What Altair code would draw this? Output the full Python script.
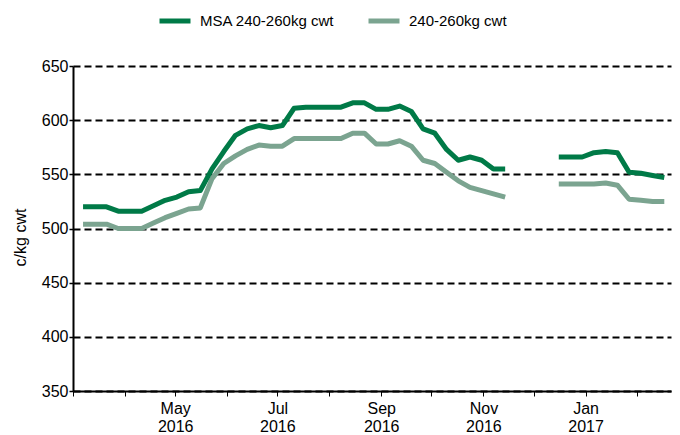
import altair as alt
import pandas as pd

series_names = ["MSA 240-260kg cwt", "240-260kg cwt"]
series_colors = ["#007A47", "#7BA490"]

# weekly dates, first run (Mar - Nov 2016)
dates_a = [
    "2016-03-07", "2016-03-14", "2016-03-21", "2016-03-28",
    "2016-04-04", "2016-04-11", "2016-04-18", "2016-04-25",
    "2016-05-02", "2016-05-09", "2016-05-16", "2016-05-23", "2016-05-30",
    "2016-06-06", "2016-06-13", "2016-06-20", "2016-06-27",
    "2016-07-04", "2016-07-11", "2016-07-18", "2016-07-25",
    "2016-08-01", "2016-08-08", "2016-08-15", "2016-08-22", "2016-08-29",
    "2016-09-05", "2016-09-12", "2016-09-19", "2016-09-26",
    "2016-10-03", "2016-10-10", "2016-10-17", "2016-10-24", "2016-10-31",
    "2016-11-07", "2016-11-14",
]
msa_a = [520, 520, 520, 516, 516, 516, 521, 526, 529, 534, 535, 555, 571, 586,
         592, 595, 593, 595, 611, 612, 612, 612, 612, 616, 616, 610, 610, 613,
         608, 592, 588, 573, 563, 566, 563, 555, 555]
std_a = [504, 504, 504, 500, 500, 500, 505, 510, 514, 518, 519, 546, 560, 567,
         573, 577, 576, 576, 583, 583, 583, 583, 583, 588, 588, 578, 578, 581,
         576, 563, 560, 552, 544, 538, 535, 532, 529]

# weekly dates, second run (Dec 2016 - Feb 2017)
dates_b = [
    "2016-12-16", "2016-12-23", "2016-12-30", "2017-01-06", "2017-01-13",
    "2017-01-20", "2017-01-27", "2017-02-03", "2017-02-10", "2017-02-17",
]
msa_b = [566, 566, 566, 570, 571, 570, 552, 551, 549, 547]
std_b = [541, 541, 541, 541, 542, 540, 527, 526, 525, 525]

tick_months = [(2016, 3), (2016, 4), (2016, 5), (2016, 6), (2016, 7), (2016, 8),
               (2016, 9), (2016, 10), (2016, 11), (2016, 12), (2017, 1), (2017, 2)]
y_ticks = [350, 400, 450, 500, 550, 600, 650]

rows = []
for seg, dates, msa, std in [("a", dates_a, msa_a, std_a), ("b", dates_b, msa_b, std_b)]:
    for d, v in zip(dates, std):
        rows.append({"date": d, "value": v, "series": series_names[1], "seg": seg + "2"})
    for d, v in zip(dates, msa):
        rows.append({"date": d, "value": v, "series": series_names[0], "seg": seg + "1"})
df = pd.DataFrame(rows)

label_expr = ("(utcmonth(datum.value) % 2 == 0 && utcmonth(datum.value) != 2) ? "
              "[utcFormat(datum.value, '%b'), utcFormat(datum.value, '%Y')] : ''")

chart = alt.Chart(df).mark_line(strokeWidth=5, strokeCap="butt", strokeJoin="round").encode(
    x=alt.X(
        "date:T",
        scale=alt.Scale(
            type="utc",
            domain=[alt.DateTime(year=2016, month=3, date=1, utc=True),
                    alt.DateTime(year=2017, month=2, date=21, utc=True)],
        ),
        axis=alt.Axis(
            values=[alt.DateTime(year=y, month=m, date=1, utc=True) for y, m in tick_months],
            labelExpr=label_expr,
            grid=False, title=None,
            domainColor="black", domainWidth=2,
            tickColor="black", tickSize=5, tickWidth=1,
            labelFontSize=16, labelColor="black", labelPadding=4,
            labelAngle=0, labelAlign="center", labelFlush=False, labelOverlap=False,
            labelLineHeight=18,
        ),
    ),
    y=alt.Y(
        "value:Q",
        scale=alt.Scale(domain=[350, 650], nice=False, zero=False),
        axis=alt.Axis(
            values=y_ticks, grid=True, gridColor="black", gridDash=[7, 4], gridWidth=2,
            domainColor="black", domainWidth=2,
            tickColor="black", tickSize=4, tickWidth=1.5,
            labelFontSize=16, labelColor="black", labelPadding=1,
            title="c/kg cwt", titleFontSize=16, titleFontWeight="normal", titleColor="black",
            titleX=-53, titleY=171, titleAngle=270, titleBaseline="middle", titleAlign="center",
        ),
    ),
    color=alt.Color(
        "series:N",
        scale=alt.Scale(domain=series_names, range=series_colors),
        legend=alt.Legend(
            orient="none", legendX=84, legendY=-63, direction="horizontal", title=None,
            symbolType="stroke", symbolSize=961, symbolStrokeWidth=5,
            labelFontSize=15, labelColor="black", columnPadding=23, labelOffset=7,
            padding=0,
        ),
    ),
    detail="seg:N",
).properties(
    width=598, height=325,
    padding={"left": 65, "top": 58, "right": 1, "bottom": 44},
    autosize=alt.AutoSizeParams(type="none"),
).configure(
    font="Liberation Sans",
).configure_view(stroke=None)

chart.save("out.html", embed_options={"renderer": "svg", "actions": False})
